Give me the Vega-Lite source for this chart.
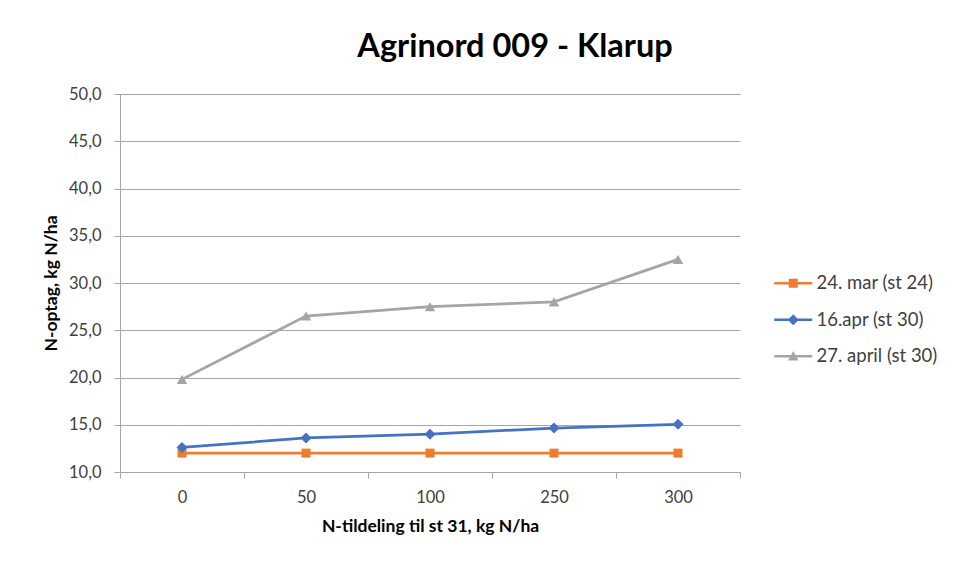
{
  "$schema": "https://vega.github.io/schema/vega-lite/v6.json",
  "autosize": "none",
  "width": 620,
  "height": 378,
  "padding": {"left": 120, "top": 94, "right": 225, "bottom": 105},
  "background": "white",
  "title": {"text": "Agrinord 009 - Klarup", "anchor": "middle", "frame": "group", "dx": 85, "offset": 23, "fontSize": 32.5, "font": "Lato", "fontWeight": "bold", "color": "#000000"},
  "config": {
    "font": "Lato",
    "view": {"stroke": null},
    "axis": {"labelFont": "Lato", "titleFont": "Lato", "labelColor": "#404040", "titleColor": "#000000", "labelFontSize": 16.5, "titleFontSize": 17.5, "titleFontWeight": "bold", "domainColor": "#a6a6a6", "tickColor": "#a6a6a6", "gridColor": "#a6a6a6", "tickSize": 6, "domainWidth": 1, "tickWidth": 1, "gridWidth": 1}
  },
  "data": {"values": [
    {"x": "0", "serie": "24. mar (st 24)", "v": 12.0},
    {"x": "50", "serie": "24. mar (st 24)", "v": 12.0},
    {"x": "100", "serie": "24. mar (st 24)", "v": 12.0},
    {"x": "250", "serie": "24. mar (st 24)", "v": 12.0},
    {"x": "300", "serie": "24. mar (st 24)", "v": 12.0},
    {"x": "0", "serie": "16.apr (st 30)", "v": 12.6},
    {"x": "50", "serie": "16.apr (st 30)", "v": 13.6},
    {"x": "100", "serie": "16.apr (st 30)", "v": 14.0},
    {"x": "250", "serie": "16.apr (st 30)", "v": 14.65},
    {"x": "300", "serie": "16.apr (st 30)", "v": 15.05},
    {"x": "0", "serie": "27. april (st 30)", "v": 19.8},
    {"x": "50", "serie": "27. april (st 30)", "v": 26.5},
    {"x": "100", "serie": "27. april (st 30)", "v": 27.5},
    {"x": "250", "serie": "27. april (st 30)", "v": 28.0},
    {"x": "300", "serie": "27. april (st 30)", "v": 32.5}
  ]},
  "encoding": {
    "x": {"field": "x", "type": "ordinal", "sort": ["0", "50", "100", "250", "300"],
      "scale": {"paddingInner": 0, "paddingOuter": 0},
      "axis": {"title": "N-tildeling til st 31, kg N/ha", "labelAngle": 0, "tickBand": "extent", "grid": false, "labelPadding": 11, "titlePadding": 12}},
    "y": {"field": "v", "type": "quantitative",
      "scale": {"domain": [10, 50], "nice": false, "zero": false},
      "axis": {"title": "N-optag, kg N/ha", "values": [10, 15, 20, 25, 30, 35, 40, 45, 50], "labelExpr": "replace(format(datum.value, '.1f'), '.', ',')", "labelPadding": 13, "titlePadding": 8, "grid": true}}
  },
  "layer": [
    {"transform": [{"filter": "datum.serie == '24. mar (st 24)'"}], "mark": {"type": "line", "strokeWidth": 2.75, "color": "#ED7D31", "point": {"shape": "square", "filled": true, "size": 81, "color": "#ED7D31", "opacity": 1}}},
    {"transform": [{"filter": "datum.serie == '16.apr (st 30)'"}], "mark": {"type": "line", "strokeWidth": 2.75, "color": "#4472C4", "point": {"shape": "diamond", "filled": true, "size": 121, "color": "#4472C4", "opacity": 1}}},
    {"transform": [{"filter": "datum.serie == '27. april (st 30)'"}], "mark": {"type": "line", "strokeWidth": 2.75, "color": "#A5A5A5", "point": {"shape": "triangle-up", "filled": true, "size": 110, "color": "#A5A5A5", "opacity": 1}}},
    {"mark": {"type": "point", "filled": true, "opacity": 0, "size": 100},
      "encoding": {
        "color": {"field": "serie", "type": "nominal",
          "scale": {"domain": ["24. mar (st 24)", "16.apr (st 30)", "27. april (st 30)"], "range": ["#ED7D31", "#4472C4", "#A5A5A5"]},
          "legend": {"title": null, "orient": "none", "legendX": 664, "legendY": 180, "labelFontSize": 18.5, "labelColor": "#404040", "labelFont": "Lato", "labelOffset": 14, "rowPadding": 17.5, "symbolSize": 100, "symbolStrokeWidth": 0, "symbolOpacity": 1}},
        "shape": {"field": "serie", "type": "nominal",
          "scale": {"domain": ["24. mar (st 24)", "16.apr (st 30)", "27. april (st 30)"], "range": [
            "M-3.8,-0.27H3.8V0.27H-3.8Z M-0.9,-0.9H0.9V0.9H-0.9Z",
            "M-3.8,-0.27H3.8V0.27H-3.8Z M0,-1.1L1.1,0L0,1.1L-1.1,0Z",
            "M-3.8,-0.27H3.8V0.27H-3.8Z M0,-1.05L1.05,0.85H-1.05Z"
          ]},
          "legend": {"title": null, "orient": "none", "legendX": 664, "legendY": 180, "labelFontSize": 18.5, "labelColor": "#404040", "labelFont": "Lato", "labelOffset": 14, "rowPadding": 17.5, "symbolSize": 100, "symbolStrokeWidth": 0, "symbolOpacity": 1}}
      }}
  ]
}
